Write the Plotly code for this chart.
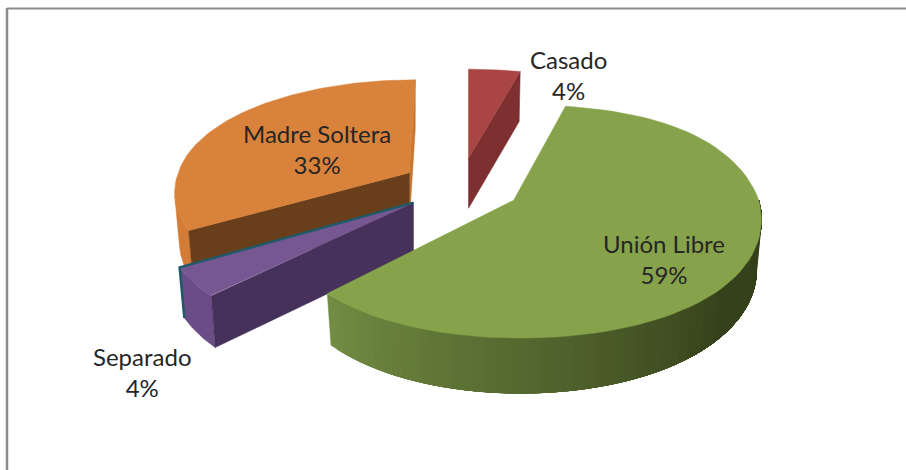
"""Exploded 3D-looking pie, built from filled scatter polygons."""

import numpy as np
import plotly.graph_objects as go

categories = ["Casado", "Unión Libre", "Separado", "Madre Soltera"]
values = [4, 59, 4, 33]
top_colors = ["#A94543", "#86A34B", "#775792", "#D9823B"]
cut_colors = ["#7E2F30", "#5A6E32", "#45315A", "#693F1B"]
wall_colors = ["#8C3634", "#36421C", "#6A4C86", "#D27C38"]
label_pos = [(568, 75), (664, 259), (142, 372), (317, 149)]

# picture geometry
CX, CY = 462, 185
EXPLODE, SQUASH = 60, 0.5
RX, RY = 238, 113
KX, KY = 0.15, 0.18
DEPTH = 50
SHRINK = 0.98

# small per-slice corrections, the source perspective is not a clean ellipse
nudge_x = [-1, 0, 0, -1]
nudge_y = [3, 0, 0, 3]
skew = [0, 0, 0, 6]
side_shift = [0, 7, -9, 7]
near_bump = [0, 14, 14, 0]
y_scale = [0.93, 1, 1, 0.97]

edges = np.cumsum([0] + values) / sum(values) * 2 * np.pi
mids = (edges[:-1] + edges[1:]) / 2


def apex(i):
    return (CX + EXPLODE * np.sin(mids[i]) + nudge_x[i],
            CY - EXPLODE * SQUASH * np.cos(mids[i]) + nudge_y[i])


def rim(i, theta, low=False):
    """Point on slice i's rim, on the top face or the bottom one."""
    ax, ay = apex(i)
    c, s = np.cos(theta), np.sin(theta)
    dx = RX * s / (1 + KX * c) + skew[i] * c + side_shift[i] * (1 - np.maximum(c, 0))
    dy = -RY * y_scale[i] * c / (1 + KY * c) - near_bump[i] * c * s * s
    if low:
        return ax + dx * SHRINK, ay + dy + DEPTH + 5 * np.maximum(-c, 0) ** 3
    return ax + dx, ay + dy


def poly(fig, xs, ys, color):
    fig.add_trace(go.Scatter(
        x=list(xs), y=list(ys), mode="lines", fill="toself", fillcolor=color,
        line=dict(color=color, width=0.5), hoverinfo="skip", showlegend=False,
    ))


def wall(fig, i, t0, t1, color):
    ts = np.linspace(t0, t1, 40)
    tx, ty = rim(i, ts)
    bx, by = rim(i, ts[::-1], low=True)
    poly(fig, np.r_[tx, bx], np.r_[ty, by], color)


def cut(fig, i, theta, color):
    ax, ay = apex(i)
    tx, ty = rim(i, theta)
    bx, by = rim(i, theta, low=True)
    poly(fig, [ax, tx, bx, ax, ax], [ay, ty, by, ay + DEPTH, ay], color)


def top(fig, i):
    ax, ay = apex(i)
    ts = np.linspace(edges[i], edges[i + 1], 80)
    tx, ty = rim(i, ts)
    poly(fig, np.r_[ax, tx, ax], np.r_[ay, ty, ay], top_colors[i])


def green_shade(u):
    light, dark = np.array([0x72, 0x8C, 0x43]), np.array([0x35, 0x41, 0x1B])
    c = light + (dark - light) * min(u, 1.0)
    return "rgb(%d,%d,%d)" % tuple(c)


fig = go.Figure()

# red slice
cut(fig, 0, edges[1], cut_colors[0])
top(fig, 0)

# orange slice, wall stops at the leftmost point of the rim
cut(fig, 3, edges[4], "#C9762F")
wall(fig, 3, edges[3], edges[3] + 0.3, wall_colors[3])
cut(fig, 3, edges[3], cut_colors[3])
top(fig, 3)

# purple slice, with the teal edge along its far side
wall(fig, 2, edges[2], edges[3], wall_colors[2])
cut(fig, 2, edges[2], cut_colors[2])
top(fig, 2)
ax2, ay2 = apex(2)
tx2, ty2 = rim(2, edges[3])
bx2, by2 = rim(2, edges[3], low=True)
fig.add_trace(go.Scatter(
    x=[ax2, tx2, bx2], y=[ay2, ty2, by2], mode="lines",
    line=dict(color="#1E5A68", width=2.5), hoverinfo="skip", showlegend=False,
))

# green slice: shaded wall, each strip painted over the one before
steps = np.linspace(edges[2], np.pi / 2, 60)
for n in range(len(steps) - 1):
    wall(fig, 1, np.pi / 2, steps[n], green_shade(n / 42))
top(fig, 1)

for name, val, (lx, ly) in zip(categories, values, label_pos):
    fig.add_annotation(
        x=lx, y=ly, text=f"{name}<br>{val}%", showarrow=False,
        font=dict(family="Lato, Carlito, sans-serif", size=24, color="#262626"),
        align="center",
    )

fig.update_layout(
    width=906, height=470, margin=dict(l=0, r=0, t=0, b=0),
    paper_bgcolor="white", plot_bgcolor="white",
    xaxis=dict(range=[0, 906], visible=False, fixedrange=True),
    yaxis=dict(range=[470, 0], visible=False, fixedrange=True),
    shapes=[
        dict(type="line", xref="x", yref="y", x0=7, x1=906, y0=8.5, y1=8.5,
             line=dict(color="#8C8C8C", width=2)),
        dict(type="line", xref="x", yref="y", x0=7, x1=7, y0=8, y1=470,
             line=dict(color="#8C8C8C", width=2.5)),
    ],
)
fig.write_html("out.html", config=dict(displayModeBar=False),
               post_script="document.body.style.margin='0';")
